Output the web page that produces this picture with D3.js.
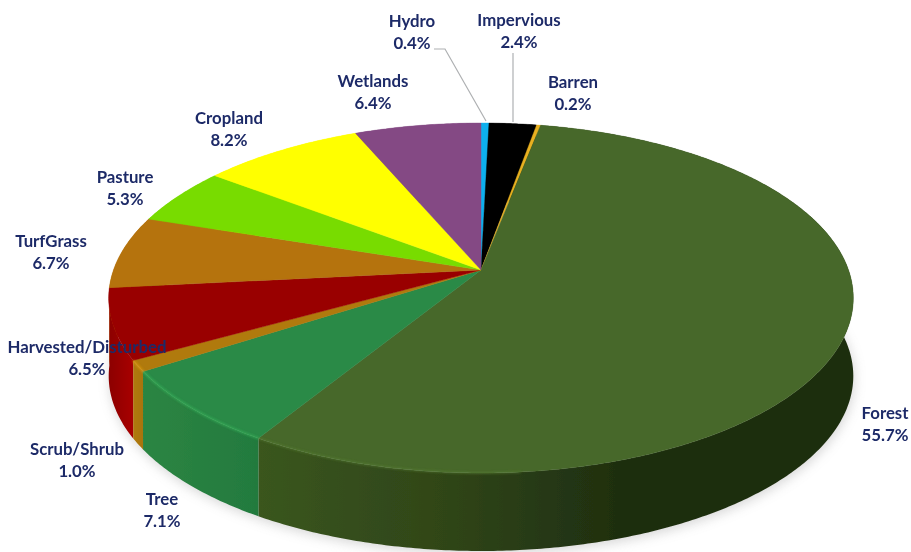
<!DOCTYPE html>
<html>
<head>
<meta charset="utf-8">
<script src="https://cdn.jsdelivr.net/npm/d3@7"></script>
<style>
  html, body { margin: 0; background: #fff; }
  svg { display: block; }
  text { font-family: Lato, "Open Sans", sans-serif; font-weight: 700; font-size: 16.8px; fill: #1f2b68; }
</style>
</head>
<body>
<svg id="chart"></svg>
<script>
// Land cover shares, clockwise from 12 o'clock
const categories = ["Hydro", "Impervious", "Barren", "Forest", "Tree", "Scrub/Shrub",
  "Harvested/Disturbed", "TurfGrass", "Pasture", "Cropland", "Wetlands"];
const shares = [0.4, 2.4, 0.2, 55.7, 7.1, 1.0, 6.5, 6.7, 5.3, 8.2, 6.4];

const topColors = ["#0fb0ee", "#000000", "#e8b020", "#47682a", "#2b8a46", "#b07a0a",
  "#990000", "#b5730f", "#78dc00", "#ffff00", "#844a84"];
const sideLeft = ["#0fb0ee", "#000000", "#e8b020", "#3a561f", "#2c8543", "#b07a0a",
  "#8c0000", "#b5730f", "#78dc00", "#ffff00", "#844a84"];
const sideRight = ["#0fb0ee", "#000000", "#e8b020", "#1f2f10", "#237a3e", "#a8740a",
  "#a80000", "#b5730f", "#78dc00", "#ffff00", "#844a84"];

// label centre x, baseline of first line
const labelPos = [[412, 27], [519, 26], [573, 88], [373, 87], [229, 124], [125, 183],
  [51, 247], [87, 353], [77, 455], [162, 505], [885, 419]];
const labelOrder = ["Hydro", "Impervious", "Barren", "Wetlands", "Cropland", "Pasture",
  "TurfGrass", "Harvested/Disturbed", "Scrub/Shrub", "Tree", "Forest"];

const width = 911, height = 552;
const cx = 481, cy = 270;           // where the slices meet
const R = 367.5, S = 170.5, k = 0.16, depth = 78;

const svg = d3.select("#chart").attr("width", width).attr("height", height);
const defs = svg.append("defs");

defs.append("filter").attr("id", "shadowBlur")
  .attr("x", "-10%").attr("y", "-20%").attr("width", "120%").attr("height", "140%")
  .append("feGaussianBlur").attr("stdDeviation", 6);
defs.append("filter").attr("id", "rimBlur")
  .append("feGaussianBlur").attr("stdDeviation", 0.9);
defs.append("filter").attr("id", "softBlur")
  .append("feGaussianBlur").attr("stdDeviation", 0.45);

// tilted disc in perspective: near edge is larger than the far edge
function project(angle, drop = 0) {
  const u = Math.sin(angle), v = -Math.cos(angle);
  const w = 1 - k * v;
  return [cx + R * u / w, cy + S * v / w + drop];
}

function arcPoints(a0, a1, drop = 0) {
  const n = Math.max(2, Math.ceil((a1 - a0) / 0.01));
  return d3.range(n + 1).map(i => project(a0 + (a1 - a0) * i / n, drop));
}

const arcs = d3.pie().sort(null).value(d => d)(shares);
const slices = arcs.map((d, i) => ({
  name: categories[i],
  value: d.value,
  i,
  a0: d.startAngle,
  a1: d.endAngle,
  mid: (d.startAngle + d.endAngle) / 2
}));

const line = d3.line();

// Soft shadow under the pie
svg.append("path")
  .attr("d", line(arcPoints(0, 2 * Math.PI, depth + 3)) + "Z")
  .attr("transform", "translate(1,0)")
  .attr("fill", "#9a9a9a")
  .attr("opacity", 0.4)
  .attr("filter", "url(#shadowBlur)");

const pie = svg.append("g").attr("filter", "url(#softBlur)");

// Side walls, back to front
const sideOrder = slices.slice().sort((a, b) => -Math.cos(a.mid) - -Math.cos(b.mid));

sideOrder.forEach(s => {
  const upper = arcPoints(s.a0, s.a1);
  const lower = arcPoints(s.a0, s.a1, depth).reverse();
  const xs = upper.map(p => p[0]);
  const grad = defs.append("linearGradient")
    .attr("id", `side${s.i}`)
    .attr("gradientUnits", "userSpaceOnUse")
    .attr("x1", d3.min(xs)).attr("x2", d3.max(xs))
    .attr("y1", 0).attr("y2", 0);
  if (s.name === "Forest") {
    // wall darkens going right, then stays dark
    grad.append("stop").attr("offset", 0).attr("stop-color", sideLeft[s.i]);
    grad.append("stop").attr("offset", 0.35).attr("stop-color", "#2e4317");
    grad.append("stop").attr("offset", 0.6).attr("stop-color", sideRight[s.i]);
    grad.append("stop").attr("offset", 1).attr("stop-color", sideRight[s.i]);
  } else if (s.name === "Harvested/Disturbed") {
    grad.attr("x1", d3.max(xs)).attr("x2", d3.min(xs));
    grad.append("stop").attr("offset", 0).attr("stop-color", sideRight[s.i]);
    grad.append("stop").attr("offset", 1).attr("stop-color", sideLeft[s.i]);
  } else {
    grad.append("stop").attr("offset", 0).attr("stop-color", sideLeft[s.i]);
    grad.append("stop").attr("offset", 1).attr("stop-color", sideRight[s.i]);
  }
  pie.append("path")
    .attr("d", line(upper.concat(lower)) + "Z")
    .attr("fill", `url(#side${s.i})`);
});

// Top faces
pie.selectAll("path.face")
  .data(slices)
  .join("path")
  .attr("class", "face")
  .attr("d", d => line([[cx, cy]].concat(arcPoints(d.a0, d.a1))) + "Z")
  .attr("fill", d => topColors[d.i])
  .attr("stroke", d => topColors[d.i])
  .attr("stroke-width", 0.4);

// Light rim along the near edge
svg.append("g").attr("filter", "url(#rimBlur)")
  .selectAll("path")
  .data(slices.filter(d => d.name === "Tree" || d.name === "Scrub/Shrub" || d.name === "Forest"))
  .join("path")
  .attr("d", d => line(arcPoints(Math.max(d.a0, 3.05), d.a1)))
  .attr("fill", "none")
  .attr("stroke", d => d3.color(topColors[d.i]).brighter(0.7))
  .attr("stroke-width", 2)
  .attr("opacity", d => d.name === "Forest" ? 0.5 : 0.8);

// Leader lines for the two labels that sit away from their slice
const leaders = [
  [[434, 49], [445, 49], [486, 121]],
  [[513, 53], [513, 122]]
];
svg.selectAll("path.leader")
  .data(leaders)
  .join("path")
  .attr("class", "leader")
  .attr("d", d => line(d))
  .attr("fill", "none")
  .attr("stroke", "#aeb0b2")
  .attr("stroke-width", 1.2);

// Labels
const labels = svg.append("g").attr("filter", "url(#softBlur)");
labelOrder.forEach((name, j) => {
  const s = slices.find(d => d.name === name);
  const t = labels.append("text")
    .attr("x", labelPos[j][0])
    .attr("y", labelPos[j][1])
    .attr("text-anchor", "middle");
  t.append("tspan").text(name);
  t.append("tspan")
    .attr("x", labelPos[j][0])
    .attr("dy", 22)
    .text(`${s.value.toFixed(1)}%`);
});
</script>
</body>
</html>
